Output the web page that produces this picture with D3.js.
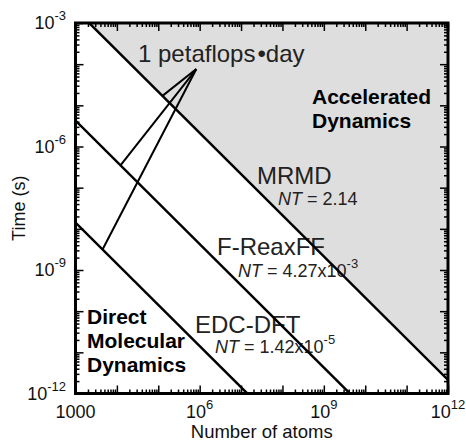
<!DOCTYPE html>
<html lang="en">
<head>
<meta charset="UTF-8">
<title>Time vs number of atoms</title>
<script src="https://d3js.org/d3.v7.min.js"></script>
<style>
  body { margin: 0; background: #fff; }
  svg { display: block; font-family: 'Liberation Sans', Arial, Helvetica, sans-serif; }
</style>
</head>
<body>
<svg id="chart" width="466" height="442"></svg>
<script>
// data
const methods = ["MRMD", "F-ReaxFF", "EDC-DFT"];
const ntValues = [2.14, 4.27e-3, 1.42e-5];          // N*T in atom*seconds
const ntText = [["2.14", ""], ["4.27x10", "-3"], ["1.42x10", "-5"]];
const petaflopAtoms = [1.26e5, 1.22e4, 4.5e3];      // where the pointer meets each line
const petaflopApex = [8.3e5, 7.6e-5];               // [atoms, seconds]
const xTickLabels = [[1e3, "1000", ""], [1e6, "10", "6"], [1e9, "10", "9"], [1e12, "10", "12"]];
const yTickLabels = [[1e-3, "-3"], [1e-6, "-6"], [1e-9, "-9"], [1e-12, "-12"]];

const svg = d3.select("#chart");
const pl = 75.5, pr = 448, pt = 23, pb = 393.5;

const x = d3.scaleLog().domain([1e3, 1e12]).range([pl, pr]);
const y = d3.scaleLog().domain([1e-12, 1e-3]).range([pb, pt]);

svg.append("clipPath").attr("id", "plot")
  .append("rect").attr("x", pl).attr("y", pt)
  .attr("width", pr - pl).attr("height", pb - pt);

// shaded region above the MRMD line
const nt0 = ntValues[0];
svg.append("path")
  .attr("clip-path", "url(#plot)")
  .attr("fill", "#dedede")
  .attr("d", d3.line()([
    [x(nt0 / 1e-3), y(1e-3)], [x(1e12), y(1e-3)], [x(1e12), y(nt0 / 1e12)]
  ]));

// text labels (drawn below the lines)
const label = (txt, lx, ly, size, weight, color) =>
  svg.append("text").attr("x", lx).attr("y", ly)
    .attr("font-size", size).attr("font-weight", weight || "normal")
    .attr("fill", color || "#222").text(txt);

label("1 petaflops\u200a\u2022day", 138, 62, 24);
label("Accelerated", 312, 104, 21, "bold", "#000");
label("Dynamics", 312, 128, 21, "bold", "#000");
label("Direct", 87, 324, 21, "bold", "#000");
label("Molecular", 87, 348, 21, "bold", "#000");
label("Dynamics", 87, 372, 21, "bold", "#000");

const namePos = [[257, 184], [217, 255], [195, 333]];
const ntPos = [[278, 205], [238, 277], [215, 353]];
methods.forEach((m, i) => {
  label(m, namePos[i][0], namePos[i][1], 24);
  const t = svg.append("text").attr("x", ntPos[i][0]).attr("y", ntPos[i][1])
    .attr("font-size", 18).attr("fill", "#222");
  t.append("tspan").attr("font-style", "italic").text("NT");
  t.append("tspan").text(" = " + ntText[i][0]);
  if (ntText[i][1]) t.append("tspan").attr("font-size", 13).attr("dy", -9).text(ntText[i][1]);
});

// N*T = const lines
const g = svg.append("g").attr("clip-path", "url(#plot)");
ntValues.forEach(nt => {
  g.append("line")
    .attr("x1", x(1e3)).attr("y1", y(nt / 1e3))
    .attr("x2", x(1e12)).attr("y2", y(nt / 1e12))
    .attr("stroke", "#000").attr("stroke-width", 2.5);
});

// petaflops-day pointers
petaflopAtoms.forEach((n, i) => {
  svg.append("line")
    .attr("x1", x(n)).attr("y1", y(ntValues[i] / n))
    .attr("x2", x(petaflopApex[0])).attr("y2", y(petaflopApex[1]))
    .attr("stroke", "#000").attr("stroke-width", 2);
});

// ticks on all four sides, inward
const decadesX = d3.range(3, 13).map(e => Math.pow(10, e));
const decadesY = d3.range(-12, -2).map(e => Math.pow(10, e));
const minors = decs => decs.slice(0, -1).flatMap(d => d3.range(2, 10).map(m => d * m));

const axes = [
  [d3.axisBottom(x), `translate(0,${pb})`, decadesX],
  [d3.axisTop(x), `translate(0,${pt})`, decadesX],
  [d3.axisLeft(y), `translate(${pl},0)`, decadesY],
  [d3.axisRight(y), `translate(${pr},0)`, decadesY]
];
axes.forEach(([ax, tr, decs]) => {
  [[decs, -8], [minors(decs), -4]].forEach(([vals, size]) => {
    const a = svg.append("g").attr("transform", tr)
      .call(ax.tickValues(vals).tickSize(size).tickSizeOuter(0).tickFormat(""));
    a.select(".domain").remove();
    a.selectAll(".tick line").attr("stroke", "#000").attr("stroke-width", 1.5);
  });
});

svg.append("rect").attr("x", pl).attr("y", pt)
  .attr("width", pr - pl).attr("height", pb - pt)
  .attr("fill", "none").attr("stroke", "#000").attr("stroke-width", 3);

// tick labels
xTickLabels.forEach(([v, base, sup]) => {
  const t = svg.append("text").attr("x", x(v)).attr("y", 418)
    .attr("font-size", 18).attr("text-anchor", "middle").attr("fill", "#111");
  t.append("tspan").text(base);
  if (sup) t.append("tspan").attr("font-size", 13).attr("dy", -9).text(sup);
});
yTickLabels.forEach(([v, sup]) => {
  const t = svg.append("text").attr("x", 66).attr("y", y(v) + 6)
    .attr("font-size", 18).attr("text-anchor", "end").attr("fill", "#111");
  t.append("tspan").text("10");
  t.append("tspan").attr("font-size", 13).attr("dy", -9).text(sup);
});

// axis titles
svg.append("text").attr("x", (pl + pr) / 2).attr("y", 438)
  .attr("text-anchor", "middle").attr("font-size", 18.5).attr("fill", "#111")
  .text("Number of atoms");
svg.append("text").attr("transform", `translate(25,${(pt + pb) / 2}) rotate(-90)`)
  .attr("text-anchor", "middle").attr("font-size", 18).attr("fill", "#111")
  .text("Time (s)");
</script>
</body>
</html>
